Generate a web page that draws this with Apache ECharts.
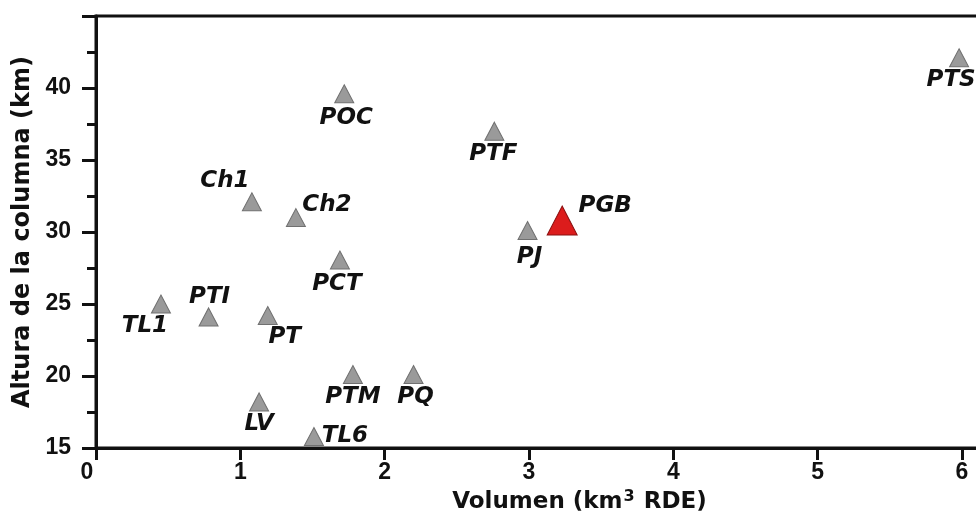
<!DOCTYPE html>
<html>
<head>
<meta charset="utf-8">
<script src="https://cdn.jsdelivr.net/npm/echarts@6/dist/echarts.min.js"></script>
<style>
  html, body { margin: 0; padding: 0; background: #ffffff; }
  #chart { width: 976px; height: 517px; }
</style>
</head>
<body>
<div id="chart"></div>
<script>
// Eruption data: erupted volume (km3 DRE) vs. eruptive column height (km)
const names   = ['TL1', 'PTI', 'PT', 'LV', 'TL6', 'PTM', 'PQ', 'Ch1', 'Ch2', 'PCT', 'POC', 'PTF', 'PJ', 'PGB', 'PTS'];
const volumes = [0.45, 0.78, 1.19, 1.13, 1.51, 1.78, 2.20, 1.08, 1.385, 1.69, 1.72, 2.76, 2.99, 3.23, 5.98];
const heights = [25.0, 24.1, 24.2, 18.2, 15.8, 20.1, 20.1, 32.1, 31.0, 28.05, 39.6, 37.0, 30.1, 30.8, 42.1];
const highlighted = 'PGB';

const xTicks = [0, 1, 2, 3, 4, 5, 6];
const yTicks = [15, 20, 25, 30, 35, 40];

// Where each label sits relative to its marker (pixels)
const labelOffset = {
  TL1: [-16, 22], PTI: [1, -20], PT: [17, 22], LV: [0, 22], TL6: [31, 0],
  PTM: [0, 22], PQ: [2, 22], Ch1: [-27, -21], Ch2: [31, -13], PCT: [-3, 24],
  POC: [2, 24], PTF: [-1, 23], PJ: [2, 26], PGB: [43, -14], PTS: [-8, 22]
};

const TICK_FONT = '"Liberation Sans", Arial, Helvetica, sans-serif';
const TEXT_FONT = '"DejaVu Sans", "Liberation Sans", Arial, sans-serif';
const INK = '#111111';

function point(i) {
  return {
    name: names[i],
    value: [volumes[i], heights[i]],
    label: {
      show: true,
      position: 'inside',
      offset: labelOffset[names[i]],
      formatter: '{b}',
      fontFamily: TEXT_FONT,
      fontSize: 23,
      fontWeight: 'bold',
      fontStyle: 'italic',
      color: INK,
      textBorderWidth: 0,
      textShadowBlur: 0
    }
  };
}

const grayPts = [], redPts = [];
names.forEach((n, i) => (n === highlighted ? redPts : grayPts).push(point(i)));

const chart = echarts.init(document.getElementById('chart'), null, { renderer: 'canvas' });
chart.setOption({
  backgroundColor: '#ffffff',
  animation: false,
  grid: {
    left: 96, top: 16, bottom: 69, right: -87,
    outerBoundsMode: 'none',
    containLabel: false,
    show: true, borderColor: INK, borderWidth: 3, backgroundColor: 'transparent'
  },
  xAxis: {
    type: 'value', min: 0, max: 6.7, interval: 1,
    name: 'Volumen (km{sup|3} RDE)',
    nameLocation: 'middle', nameGap: 40,
    nameTextStyle: {
      fontFamily: TEXT_FONT, fontSize: 23, fontWeight: 'bold', color: INK,
      rich: { sup: { fontFamily: TEXT_FONT, fontSize: 16, fontWeight: 'bold', color: INK, verticalAlign: 'top', padding: [0, 1, 10, 1] } }
    },
    axisLine: { show: true, onZero: false, lineStyle: { color: INK, width: 3 } },
    axisTick: { show: true, inside: false, length: 12, lineStyle: { color: INK, width: 3 } },
    axisLabel: {
      margin: 13, fontFamily: TICK_FONT, fontSize: 23, fontWeight: 'bold', color: INK,
      formatter: v => (v === 0 ? '{zero|0}' : (xTicks.indexOf(v) >= 0 ? String(v) : '')),
      rich: { zero: { fontFamily: TICK_FONT, fontSize: 23, fontWeight: 'bold', color: INK, padding: [0, 18, 0, 0] } }
    },
    splitLine: { show: false }
  },
  yAxis: {
    type: 'value', min: 15, max: 45, interval: 5,
    name: 'Altura de la columna (km)',
    nameLocation: 'middle', nameGap: 60,
    nameTextStyle: { fontFamily: TEXT_FONT, fontSize: 24, fontWeight: 'bold', color: INK },
    axisLine: { show: true, onZero: false, lineStyle: { color: INK, width: 3 } },
    axisTick: { show: true, inside: false, length: 14, lineStyle: { color: INK, width: 3 } },
    minorTick: { show: true, splitNumber: 2, length: 9, lineStyle: { color: INK, width: 3 } },
    axisLabel: {
      margin: 25, fontFamily: TICK_FONT, fontSize: 23, fontWeight: 'bold', color: INK,
      formatter: v => (yTicks.indexOf(v) >= 0 ? String(v) : '')
    },
    splitLine: { show: false }
  },
  series: [
    {
      type: 'scatter',
      symbol: 'triangle',
      symbolSize: [19, 18],
      itemStyle: { color: '#9a9a9a', borderColor: '#707070', borderWidth: 1, opacity: 1 },
      emphasis: { disabled: true },
      data: grayPts,
      z: 3
    },
    {
      type: 'scatter',
      symbol: 'triangle',
      symbolSize: [30, 29],
      itemStyle: { color: '#dc1c1c', borderColor: '#8a1010', borderWidth: 1, opacity: 1 },
      emphasis: { disabled: true },
      data: redPts,
      z: 4
    }
  ]
});
</script>
</body>
</html>
